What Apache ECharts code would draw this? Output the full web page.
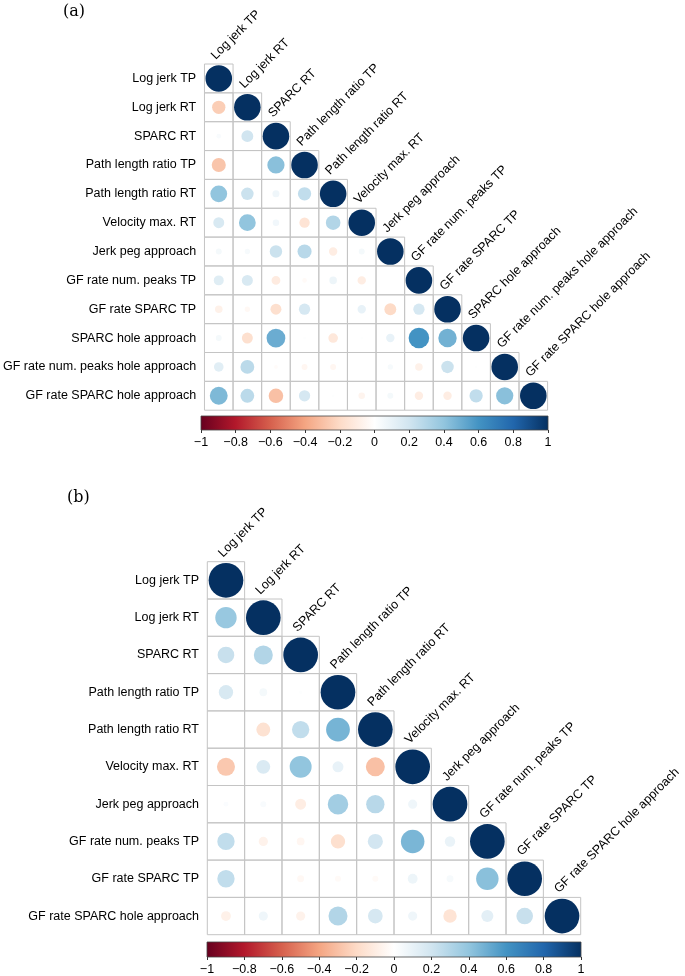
<!DOCTYPE html>
<html>
<head>
<meta charset="utf-8">
<script src="https://cdn.jsdelivr.net/npm/echarts@6/dist/echarts.min.js"></script>
<style>html,body{margin:0;padding:0;background:#fff;}#c{width:685px;height:976px;}</style>
</head>
<body>
<div id="c"></div>
<script>
// ---- data ----
const labelsA = ['Log jerk TP','Log jerk RT','SPARC RT','Path length ratio TP','Path length ratio RT','Velocity max. RT','Jerk peg approach','GF rate num. peaks TP','GF rate SPARC TP','SPARC hole approach','GF rate num. peaks hole approach','GF rate SPARC hole approach'];
const corrA = [
  [1],
  [-0.25, 1],
  [0.03, 0.2, 1],
  [-0.28, 0.0, 0.42, 1],
  [0.4, 0.22, 0.07, 0.25, 1],
  [0.17, 0.4, 0.06, -0.15, 0.3, 1],
  [0.05, 0.04, 0.22, 0.28, -0.1, 0.05, 1],
  [0.14, 0.17, -0.11, -0.03, 0.08, -0.1, 0.0, 1],
  [-0.08, -0.04, -0.17, 0.18, 0.0, 0.1, -0.2, 0.18, 1],
  [0.05, -0.17, 0.5, 0.01, -0.13, 0.01, 0.1, 0.6, 0.48, 1],
  [0.13, 0.27, -0.02, -0.05, -0.05, 0.0, 0.04, -0.08, 0.22, 0.01, 1],
  [0.45, 0.27, -0.3, 0.18, 0.01, -0.06, 0.05, -0.1, -0.1, 0.25, 0.42, 1]
];
const labelsB = ['Log jerk TP','Log jerk RT','SPARC RT','Path length ratio TP','Path length ratio RT','Velocity max. RT','Jerk peg approach','GF rate num. peaks TP','GF rate SPARC TP','GF rate SPARC hole approach'];
const corrB = [
  [1],
  [0.38, 1],
  [0.23, 0.3, 1],
  [0.17, 0.05, 0.01, 1],
  [0.0, -0.16, 0.25, 0.47, 1],
  [-0.27, 0.16, 0.4, 0.1, -0.3, 1],
  [0.02, 0.03, -0.1, 0.35, 0.28, 0.07, 1],
  [0.25, -0.07, -0.05, -0.17, 0.19, 0.46, 0.09, 1],
  [0.25, 0.0, -0.04, -0.03, -0.03, 0.08, 0.04, 0.42, 1],
  [-0.08, 0.07, -0.07, 0.3, 0.18, 0.07, -0.15, 0.12, 0.23, 1]
];
const colorbarTicks = [-1, -0.8, -0.6, -0.4, -0.2, 0, 0.2, 0.4, 0.6, 0.8, 1];
const palette = ['#67001F','#B2182B','#D6604D','#F4A582','#FDDBC7','#FFFFFF','#D1E5F0','#92C5DE','#4393C3','#2166AC','#053061'];

// ---- build ----
function cells(m) {
  const out = [];
  m.forEach((row, i) => row.forEach((v, j) => out.push([j, i, v])));
  return out;
}
const FONT = 'Liberation Sans, Arial, sans-serif';
const FS = 12.5;

function cellRender(params, api) {
  const x = api.value(0), y = api.value(1), r = api.value(2);
  const p0 = api.coord([x, y]);
  const p1 = api.coord([x + 1, y + 1]);
  const left = Math.min(p0[0], p1[0]), top = Math.min(p0[1], p1[1]);
  const w = Math.abs(p1[0] - p0[0]), h = Math.abs(p1[1] - p0[1]);
  const rad = Math.min(w, h) * 0.465 * Math.sqrt(Math.abs(r));
  return {
    type: 'group',
    children: [
      {type: 'rect', shape: {x: left, y: top, width: w, height: h}, style: {fill: 'none', stroke: '#c4c4c4', lineWidth: 1}},
      {type: 'circle', shape: {cx: left + w / 2, cy: top + h / 2, r: rad}, style: {fill: api.visual('color')}}
    ]
  };
}
function labelRender(names) {
  return function (params, api) {
    const j = api.value(0);
    const p = api.coord([j + 0.5, j]);
    return {
      type: 'text',
      x: p[0] - 5.5,
      y: p[1] - 6.5,
      rotation: Math.PI / 4,
      style: {text: names[params.dataIndex], fontSize: FS, fontFamily: FONT, fill: '#000', align: 'left', verticalAlign: 'middle'}
    };
  };
}
function barRender(params, api) {
  const p0 = api.coord([-1, 1]);
  const p1 = api.coord([1, 0]);
  const stops = palette.map((c, k) => ({offset: k / (palette.length - 1), color: c}));
  return {
    type: 'rect',
    shape: {x: p0[0], y: p0[1], width: p1[0] - p0[0], height: p1[1] - p0[1]},
    style: {fill: new echarts.graphic.LinearGradient(0, 0, 1, 0, stops), stroke: '#444', lineWidth: 0.8}
  };
}
const fmt = v => {
  const r = Math.round(v * 10) / 10;
  return colorbarTicks.indexOf(r) >= 0 ? String(r).replace('-', '\u2212') : '';
};

const nA = labelsA.length, nB = labelsB.length;
const cellA = 28.8, cellB = 37.34;
const gA = {left: 202, top: 64, width: cellA * nA, height: 28.85 * nA};
const gB = {left: 207.3, top: 561.7, width: cellB * nB, height: 37.3 * nB};

const hiddenVal = (n, inv) => ({type: 'value', min: 0, max: n, show: false, inverse: !!inv});
const catY = (names, gi) => ({
  type: 'category', gridIndex: gi, data: names, inverse: true, position: 'left',
  axisLine: {show: false}, axisTick: {show: false},
  axisLabel: {fontSize: FS, fontFamily: FONT, color: '#000', margin: 8.3}
});
const cbX = gi => ({
  type: 'value', gridIndex: gi, min: -1, max: 1, interval: 0.2,
  axisLine: {show: false}, splitLine: {show: false},
  axisTick: {show: true, length: 3, lineStyle: {color: '#333', width: 1}},
  axisLabel: {fontSize: FS, fontFamily: FONT, color: '#000', margin: 6, formatter: fmt, showMinLabel: true, showMaxLabel: true}
});

const option = {
  backgroundColor: '#fff',
  animation: false,
  title: [
    {text: '(a)', left: 58, top: -1, textStyle: {fontFamily: 'DejaVu Serif', fontSize: 16, fontWeight: 'normal', color: '#000'}},
    {text: '(b)', left: 62, top: 485, textStyle: {fontFamily: 'DejaVu Serif', fontSize: 16, fontWeight: 'normal', color: '#000'}}
  ],
  grid: [
    gA, gB,
    {left: 201, top: 416, width: 347, height: 14},
    {left: 207, top: 942, width: 374, height: 15}
  ],
  xAxis: [
    Object.assign(hiddenVal(nA), {gridIndex: 0}),
    Object.assign(hiddenVal(nB), {gridIndex: 1}),
    cbX(2), cbX(3)
  ],
  yAxis: [
    Object.assign(hiddenVal(nA, true), {gridIndex: 0}),
    catY(labelsA, 0),
    Object.assign(hiddenVal(nB, true), {gridIndex: 1}),
    catY(labelsB, 1),
    {type: 'value', gridIndex: 2, min: 0, max: 1, show: false},
    {type: 'value', gridIndex: 3, min: 0, max: 1, show: false}
  ],
  visualMap: [{
    type: 'continuous', show: false, min: -1, max: 1, dimension: 2, seriesIndex: [0, 2],
    inRange: {color: palette}
  }],
  series: [
    {type: 'custom', xAxisIndex: 0, yAxisIndex: 0, data: cells(corrA), renderItem: cellRender},
    {type: 'custom', xAxisIndex: 0, yAxisIndex: 0, data: labelsA.map((n, j) => [j, j]), renderItem: labelRender(labelsA)},
    {type: 'custom', xAxisIndex: 1, yAxisIndex: 2, data: cells(corrB), renderItem: cellRender},
    {type: 'custom', xAxisIndex: 1, yAxisIndex: 2, data: labelsB.map((n, j) => [j, j]), renderItem: labelRender(labelsB)},
    {type: 'custom', xAxisIndex: 2, yAxisIndex: 4, data: [[0, 0]], renderItem: barRender},
    {type: 'custom', xAxisIndex: 3, yAxisIndex: 5, data: [[0, 0]], renderItem: barRender}
  ]
};
const chart = echarts.init(document.getElementById('c'), null, {renderer: 'canvas'});
chart.setOption(option);
</script>
</body>
</html>
